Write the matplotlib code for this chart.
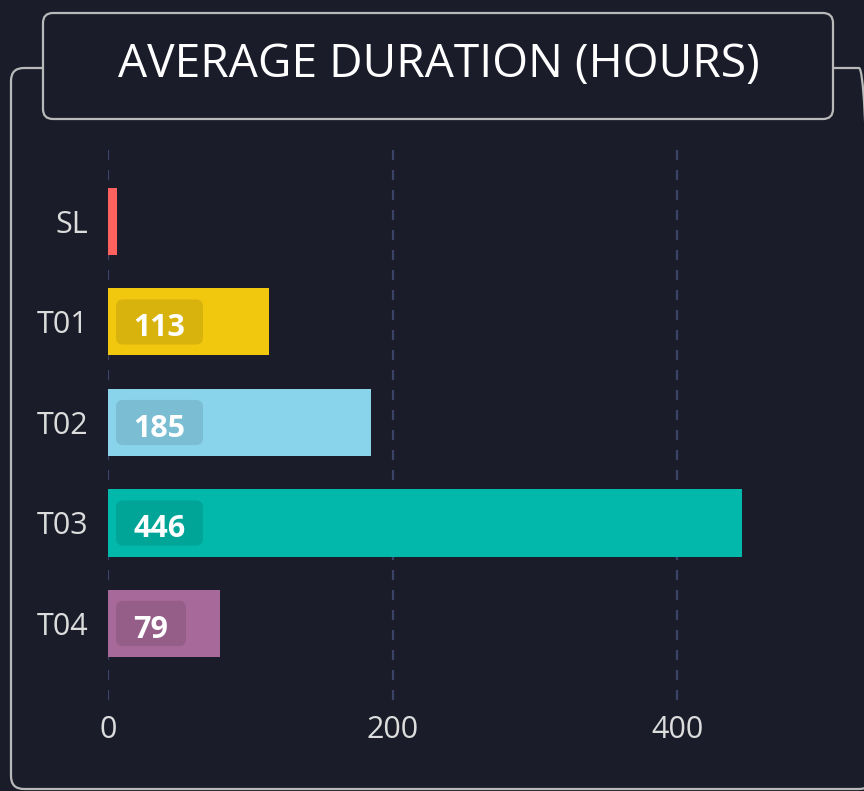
import matplotlib.pyplot as plt
from matplotlib.patches import FancyBboxPatch

# data
categories = ['SL', 'T01', 'T02', 'T03', 'T04']
hours = [6, 113, 185, 446, 79]
bar_colors = ['#FD625E', '#F2C80F', '#8AD4EB', '#01B8AA', '#A66999']
xticks = [0, 200, 400]
title = 'AVERAGE DURATION (HOURS)'

bg = '#1a1c2a'
frame_col = '#b9b9b9'
text_col = '#dcdcdc'
plt.rcParams['font.family'] = ['Open Sans', 'DejaVu Sans']

W, H = 864, 791
fig = plt.figure(figsize=(W / 100, H / 100), dpi=100, facecolor=bg)

# outer frame + title box (drawn in inches so the corners stay round)
def px_box(x0, y0, x1, y1, r, **kw):
    p = FancyBboxPatch((x0 / 100, (H - y1) / 100), (x1 - x0) / 100, (y1 - y0) / 100,
                       boxstyle=f'round,pad=0,rounding_size={r / 100}',
                       transform=fig.dpi_scale_trans, **kw)
    fig.patches.append(p)
    return p

px_box(11, 68, 872, 789, 13, fc='none', ec=frame_col, lw=1.6, zorder=1)
px_box(43, 13, 833, 119, 10, fc=bg, ec=frame_col, lw=1.6, zorder=2)
fig.text(439 / W, 1 - 65 / H, title, color='white', fontsize=33.2,
         ha='center', va='center', zorder=3)

# main axes
ax = fig.add_axes([108 / W, (H - 700) / H, (W - 108) / W, 550 / H])
ax.set_facecolor('none')
y = list(range(len(categories)))
ax.barh(y, hours, height=0.667, color=bar_colors, zorder=2)
ax.set_xlim(0, (W - 108) / 1.4225)
ax.set_ylim(4.761, -0.711)
ax.set_yticks(y)
ax.set_yticklabels(categories)
ax.set_xticks(xticks)
ax.tick_params(length=0, colors=text_col, labelsize=22)
ax.tick_params(axis='y', pad=14)
ax.tick_params(axis='x', pad=11)
for s in ax.spines.values():
    s.set_visible(False)
ax.grid(axis='x', color='#3b4466', lw=1.6, linestyle=(0, (4.5, 4.5)), zorder=0)
ax.grid(axis='y', visible=False)

# value labels in darker rounded boxes
ppu = 1.4225  # pixels per data unit along x
for yi, v in zip(y, hours):
    if v < 20:
        continue
    s = str(v)
    bw = (36 + 17 * len(s)) / ppu
    x0 = 8 / ppu
    ax.add_patch(FancyBboxPatch((x0, yi - 0.225), bw, 0.45,
                                boxstyle='round,pad=0,rounding_size=5',
                                mutation_aspect=0.45 / 45 * ppu,
                                fc=(0, 0, 0, 0.1), ec='none', zorder=3))
    ax.text(x0 + bw / 2, yi + 0.06, s, color='white', fontsize=22, fontweight='bold',
            ha='center', va='center', zorder=4)

fig.savefig('out.png', dpi=100, facecolor=bg)
